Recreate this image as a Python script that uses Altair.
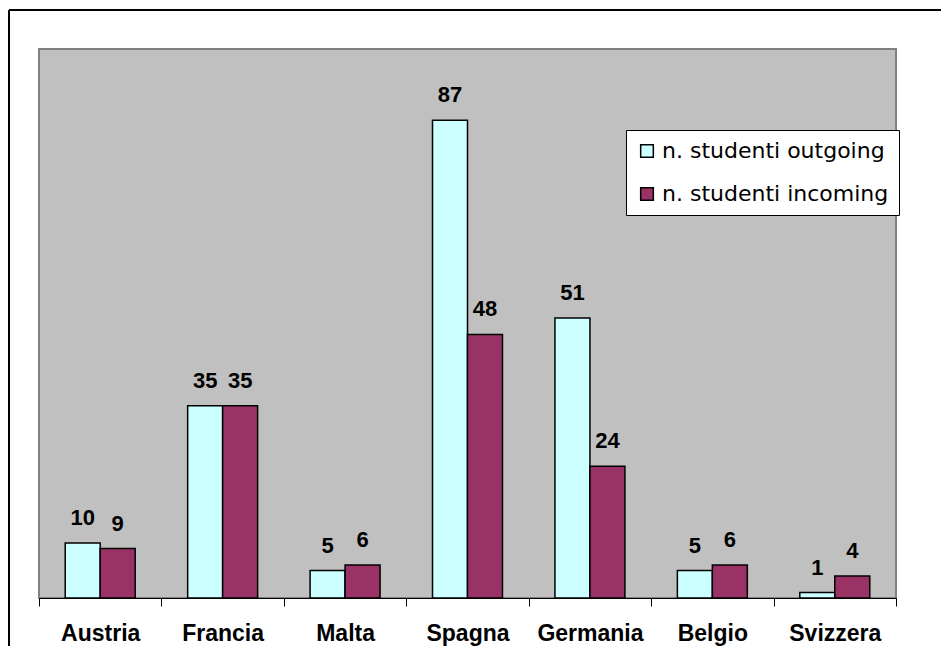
import altair as alt
import pandas as pd

countries = ["Austria", "Francia", "Malta", "Spagna", "Germania", "Belgio", "Svizzera"]
outgoing = [10, 35, 5, 87, 51, 5, 1]
incoming = [9, 35, 6, 48, 24, 6, 4]
series = ["n. studenti outgoing", "n. studenti incoming"]
colors = ["#CCFFFF", "#993366"]

rows = []
for c, o, i in zip(countries, outgoing, incoming):
    rows.append({"paese": c, "serie": series[0], "valore": o})
    rows.append({"paese": c, "serie": series[1], "valore": i})
df = pd.DataFrame(rows)

W, H = 857, 549

x_enc = alt.X("paese:N", sort=countries, title=None,
              scale=alt.Scale(paddingInner=0, paddingOuter=0),
              axis=alt.Axis(labelAngle=0, tickBand="extent", tickSize=8,
                            tickColor="black", domainColor="black", domainWidth=1,
                            labelFont="Liberation Sans", labelFontWeight="bold",
                            labelFontSize=23, labelColor="black", labelPadding=16,
                            grid=False))
xoff = alt.XOffset("serie:N", sort=series,
                   scale=alt.Scale(paddingInner=0, paddingOuter=0.75))
y_enc = alt.Y("valore:Q", scale=alt.Scale(domain=[0, 100]), axis=None)

bars = alt.Chart(df).mark_bar(stroke="black", strokeWidth=1.5).encode(
    x=x_enc,
    xOffset=xoff,
    y=y_enc,
    color=alt.Color("serie:N", sort=series,
                    scale=alt.Scale(domain=series, range=colors),
                    legend=alt.Legend(title=None, orient="none", legendX=587, legendY=81,
                                      fillColor="white", strokeColor="black",
                                      padding=10, rowPadding=21,
                                      labelFont="DejaVu Sans", labelFontSize=22,
                                      labelColor="black", labelOffset=4, labelLimit=400,
                                      symbolType="square", symbolSize=160,
                                      symbolStrokeColor="black", symbolStrokeWidth=1.5,
                                      symbolOpacity=1)),
)

labels = alt.Chart(df).mark_text(dy=-18, baseline="alphabetic", font="Liberation Sans",
                                 fontWeight="bold", fontSize=22, color="black").encode(
    x=alt.X("paese:N", sort=countries),
    xOffset=xoff,
    y=y_enc,
    text="valore:Q",
)

frame = pd.DataFrame({"k": [0]})
top_line = alt.Chart(frame).mark_rule(color="black", strokeWidth=2).encode(
    x=alt.value(-30), x2=alt.value(W + 45), y=alt.value(-39))
left_line = alt.Chart(frame).mark_rule(color="black", strokeWidth=2).encode(
    x=alt.value(-30), y=alt.value(-39), y2=alt.value(H + 60))

chart = alt.layer(bars, labels, top_line, left_line).properties(
    width=W, height=H,
    autosize=alt.AutoSizeParams(type="none"),
    padding={"left": 31, "top": 41, "right": 45, "bottom": 48},
    background="white",
).configure_view(
    fill="#C0C0C0", stroke="#808080", strokeWidth=2
)

chart.save("out.html", embed_options={"renderer": "svg", "actions": False})
